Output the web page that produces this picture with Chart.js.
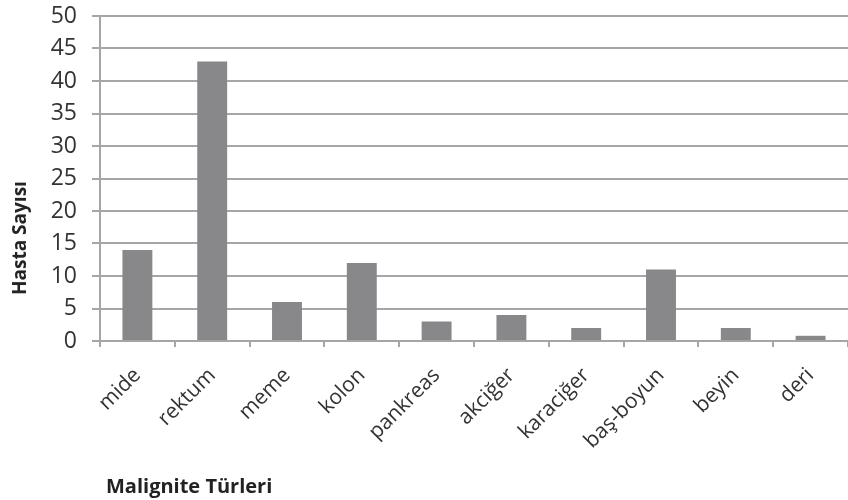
<!DOCTYPE html>
<html lang="tr">
<head>
  <meta charset="UTF-8" />
  <title>Malignite Türleri</title>
  <script src="https://cdn.jsdelivr.net/npm/chart.js"></script>
  <style>
    html, body { margin: 0; padding: 0; background: #fff; }
    #wrap { position: relative; width: 848px; height: 500px; }
    .axis-title { position: absolute; font-family: 'Open Sans', sans-serif; font-weight: bold; font-size: 19px; color: #222; white-space: nowrap; }
    #yTitle { left: 19px; top: 238px; transform: translate(-50%, -50%) rotate(-90deg); }
    #xTitle { left: 106px; top: 472px; font-size: 20px; }
  </style>
</head>
<body>
  <div id="wrap">
    <canvas id="chart" width="848" height="500"></canvas>
    <div id="yTitle" class="axis-title">Hasta Sayısı</div>
    <div id="xTitle" class="axis-title">Malignite Türleri</div>
  </div>

  <script>
    const categories = ['mide', 'rektum', 'meme', 'kolon', 'pankreas', 'akciğer', 'karaciğer', 'baş-boyun', 'beyin', 'deri'];
    const patientCounts = [14, 43, 6, 12, 3, 4, 2, 11, 2, 0.8];
    const yTicks = [0, 5, 10, 15, 20, 25, 30, 35, 40, 45, 50];

    const gridGray = '#a6a6a6';

    Chart.defaults.font.family = "'Open Sans', sans-serif";
    Chart.defaults.color = '#333';

    new Chart(document.getElementById('chart'), {
      type: 'bar',
      data: {
        labels: categories,
        datasets: [{
          data: patientCounts,
          backgroundColor: '#88888b',
          barPercentage: 0.4,
          categoryPercentage: 1.0
        }]
      },
      options: {
        responsive: false,
        animation: false,
        layout: { padding: { top: 16, right: 0, left: 0, bottom: 0 } },
        plugins: {
          legend: { display: false },
          tooltip: { enabled: false }
        },
        scales: {
          x: {
            afterFit: (s) => { s.height = 159; s.paddingLeft = 0; s.paddingRight = 0; },
            grid: {
              offset: true,
              drawOnChartArea: false,
              drawTicks: true,
              tickLength: 6,
              color: gridGray,
              lineWidth: 2
            },
            border: { display: true, color: gridGray, width: 2 },
            ticks: {
              minRotation: 45,
              maxRotation: 45,
              padding: 16,
              font: { size: 21 },
              color: '#333'
            }
          },
          y: {
            min: 0,
            max: 50,
            afterFit: (s) => { s.width = 100; s.paddingTop = 0; s.paddingBottom = 0; },
            afterBuildTicks: (s) => { s.ticks = yTicks.map(v => ({ value: v })); },
            grid: {
              color: gridGray,
              lineWidth: 2,
              tickLength: 8
            },
            border: { display: true, color: gridGray, width: 2 },
            ticks: {
              padding: 15,
              font: { size: 23 },
              color: '#333'
            }
          }
        }
      }
    });
  </script>
</body>
</html>
